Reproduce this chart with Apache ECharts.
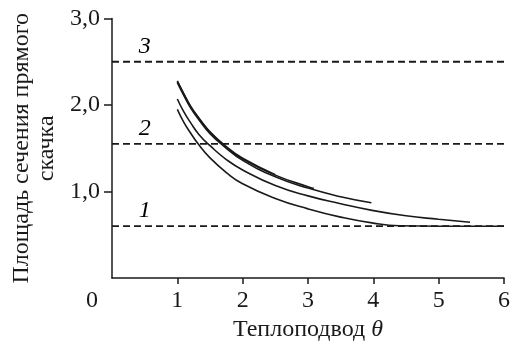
<!DOCTYPE html>
<html>
<head>
<meta charset="utf-8">
<script src="https://cdn.jsdelivr.net/npm/echarts@6/dist/echarts.min.js"></script>
<style>
  html, body { margin: 0; padding: 0; background: #fff; }
  #chart { width: 513px; height: 347px; }
</style>
</head>
<body>
<div id="chart"></div>
<script>
// Axis ticks
const xTicks = [0, 1, 2, 3, 4, 5, 6];
const yTicks = [1, 2, 3];

// Reference levels (dashed) and their labels
const levelValues = [0.6, 1.55, 2.5];
const levelNames = ['1', '2', '3'];
const levelLabelX = 0.5;

// Cross-section area vs heat addition, five computed curves
const curveAx = [1, 1.1, 1.2, 1.33, 1.5, 1.75, 2, 2.5, 3, 3.5, 4, 4.4, 5, 5.5, 6];
const curveAy = [1.95, 1.80, 1.68, 1.54, 1.39, 1.22, 1.09, 0.92, 0.80, 0.705, 0.635, 0.605, 0.60, 0.60, 0.60];

const curveBx = [1, 1.1, 1.2, 1.33, 1.5, 1.75, 2, 2.5, 3, 3.5, 4, 4.5, 5, 5.48];
const curveBy = [2.07, 1.92, 1.80, 1.66, 1.53, 1.37, 1.25, 1.07, 0.95, 0.86, 0.78, 0.72, 0.68, 0.645];

const curveCx = [1, 1.1, 1.2, 1.33, 1.5, 1.75, 2, 2.5, 3, 3.5, 3.97];
const curveCy = [2.26, 2.11, 1.97, 1.83, 1.67, 1.50, 1.36, 1.17, 1.04, 0.94, 0.87];

const curveDx = [1, 1.1, 1.2, 1.33, 1.5, 1.75, 2, 2.5, 3, 3.09];
const curveDy = [2.27, 2.125, 1.985, 1.845, 1.685, 1.515, 1.375, 1.19, 1.055, 1.035];

const curveEx = [1, 1.1, 1.2, 1.33, 1.5, 1.75, 2, 2.5];
const curveEy = [2.28, 2.13, 1.99, 1.85, 1.69, 1.52, 1.385, 1.195];

const xTitle = 'Теплоподвод';
const xSymbol = 'θ';
const yTitle = 'Площадь сечения прямого\nскачка';

const FONT = '"Liberation Serif", "DejaVu Serif", serif';
const INK = '#1a1a1a';
const FS = 24;

const zip = (xs, ys) => xs.map((x, i) => [x, ys[i]]);

const curveSeries = [
  [curveAx, curveAy],
  [curveBx, curveBy],
  [curveCx, curveCy],
  [curveDx, curveDy],
  [curveEx, curveEy]
].map(([xs, ys]) => ({
  type: 'line',
  data: zip(xs, ys),
  smooth: true,
  symbol: 'none',
  lineStyle: { color: INK, width: 1.6 },
  silent: true,
  z: 3
}));

const levelSeries = levelValues.map(v => ({
  type: 'line',
  data: [[0, v], [6, v]],
  symbol: 'none',
  lineStyle: { color: INK, width: 1.8, type: [7, 4] },
  silent: true,
  z: 2
}));

const levelLabelSeries = {
  type: 'scatter',
  data: levelValues.map((v, i) => [levelLabelX, v, levelNames[i]]),
  symbolSize: 0,
  silent: true,
  itemStyle: { opacity: 1 },
  label: {
    show: true,
    position: 'top',
    distance: 3,
    formatter: p => p.value[2],
    fontFamily: FONT,
    fontStyle: 'italic',
    fontSize: FS,
    color: '#000',
    opacity: 1
  }
};

const chart = echarts.init(document.getElementById('chart'), null, { renderer: 'canvas' });
chart.setOption({
  animation: false,
  backgroundColor: '#fff',
  grid: { left: 112, right: 6, top: 18.5, bottom: 68 },
  xAxis: {
    type: 'value',
    min: 0, max: 6, interval: 1,
    splitLine: { show: false },
    axisLine: { show: true, onZero: false, lineStyle: { color: INK, width: 1.5 } },
    axisTick: { show: true, inside: false, length: 6, customValues: xTicks.slice(1), lineStyle: { color: INK, width: 1.5 } },
    axisLabel: {
      customValues: xTicks,
      margin: 11,
      fontFamily: FONT, fontSize: FS, color: INK,
      formatter: v => v === 0 ? '{o|0}' : String(v),
      rich: { o: { fontFamily: FONT, fontSize: FS, color: INK, padding: [0, 40, 0, 0] } }
    },
    name: xTitle + ' {i|' + xSymbol + '}',
    nameLocation: 'middle',
    nameGap: 39,
    nameTextStyle: {
      fontFamily: FONT, fontSize: FS, color: INK,
      rich: { i: { fontFamily: FONT, fontSize: FS, fontStyle: 'italic', color: INK } }
    }
  },
  yAxis: {
    type: 'value',
    min: 0, max: 3, interval: 1,
    splitLine: { show: false },
    axisLine: { show: true, onZero: false, lineStyle: { color: INK, width: 1.5 } },
    axisTick: { show: true, inside: false, length: 8, customValues: yTicks, lineStyle: { color: INK, width: 1.5 } },
    axisLabel: {
      customValues: yTicks,
      margin: 12,
      fontFamily: FONT, fontSize: FS, color: INK,
      formatter: v => v.toFixed(1).replace('.', ',')
    },
    name: yTitle,
    nameLocation: 'middle',
    nameGap: 52,
    nameRotate: 90,
    nameTextStyle: { fontFamily: FONT, fontSize: FS, color: INK, lineHeight: 25, align: 'center' }
  },
  series: [...levelSeries, ...curveSeries, levelLabelSeries]
});
</script>
</body>
</html>
